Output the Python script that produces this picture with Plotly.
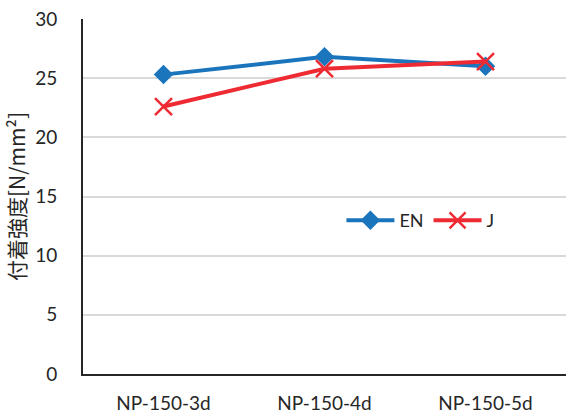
import plotly.graph_objects as go

categories = ["NP-150-3d", "NP-150-4d", "NP-150-5d"]
en_values = [25.3, 26.8, 26.0]
j_values = [22.6, 25.8, 26.4]
y_ticks = [0, 5, 10, 15, 20, 25, 30]

BLUE = "#1B75BC"
RED = "#EE2A33"
TEXT = "#262626"
FONT = "Lato, 'Noto Sans CJK JP', sans-serif"

fig = go.Figure()
fig.add_trace(go.Scatter(
    x=categories, y=en_values, name="EN", mode="lines+markers",
    line=dict(color=BLUE, width=4),
    marker=dict(symbol="diamond", size=15, color=BLUE),
))
fig.add_trace(go.Scatter(
    x=categories, y=j_values, name="J", mode="lines+markers",
    line=dict(color=RED, width=4),
    marker=dict(symbol="x-thin", size=17, color=RED, line=dict(color=RED, width=2.5)),
))

fig.update_layout(
    width=566, height=414,
    margin=dict(l=83, r=0, t=19, b=40),
    plot_bgcolor="white", paper_bgcolor="white",
    font=dict(family=FONT, size=18, color=TEXT),
    showlegend=True,
    legend=dict(
        orientation="h", x=0.535, y=0.432, xanchor="left", yanchor="middle",
        bgcolor="rgba(0,0,0,0)", font=dict(size=18, family=FONT, color=TEXT),
        itemwidth=48, tracegroupgap=0,
    ),
    xaxis=dict(
        type="category", range=[-0.5, 2.5], automargin=False,
        showline=True, linecolor=TEXT, linewidth=2,
        showgrid=False, ticks="", ticklabelstandoff=11,
        tickfont=dict(size=19, family=FONT, color=TEXT),
    ),
    yaxis=dict(
        range=[0, 30], tickvals=y_ticks, automargin=False,
        showline=True, linecolor=TEXT, linewidth=2,
        showgrid=True, gridcolor="#D9D9D9", gridwidth=1.5,
        zeroline=False, ticks="", ticklabelstandoff=20,
        tickfont=dict(size=19, family=FONT, color=TEXT),
        title=dict(text="付着強度[N/mm²]", standoff=4,
                   font=dict(size=21, color=TEXT,
                             family="'Noto Sans CJK JP', sans-serif")),
    ),
)

fig.write_html("out.html")
